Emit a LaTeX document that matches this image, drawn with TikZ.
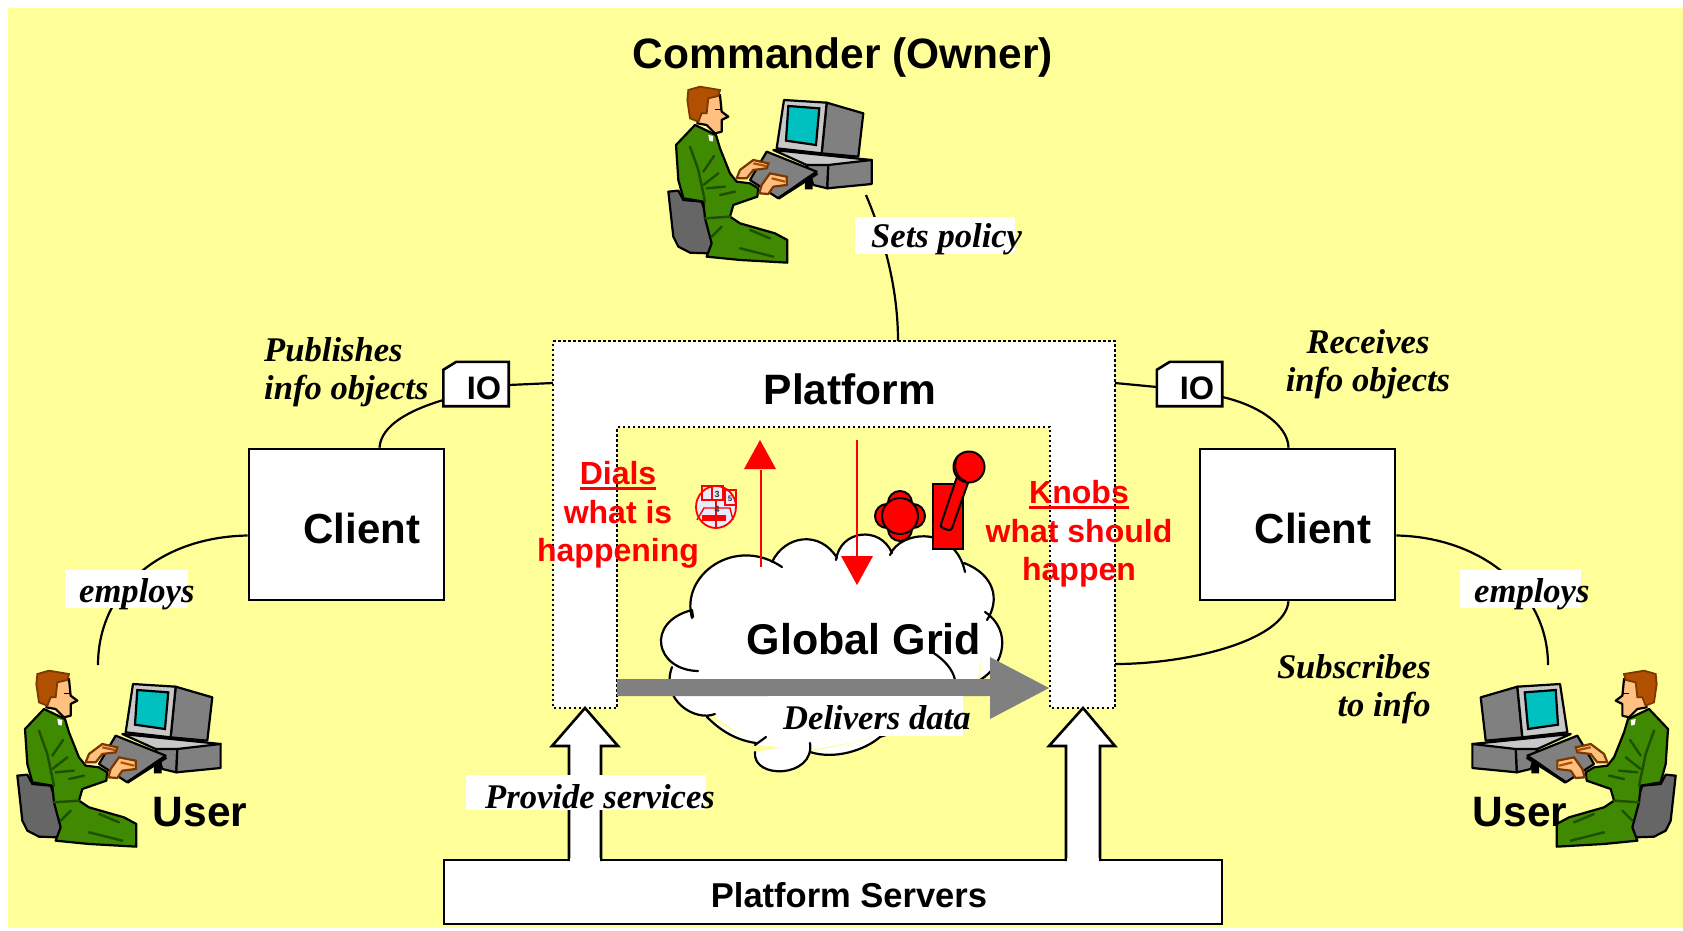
\documentclass[tikz,border=0pt]{standalone}
\usepackage{fontspec}
\setmainfont{Liberation Sans}
\newfontfamily\timesf{Liberation Serif}
\usetikzlibrary{calc}
\definecolor{bgyellow}{HTML}{FFFF99}
\definecolor{suit}{HTML}{3F8A00}
\definecolor{suitdark}{HTML}{1F4F00}
\definecolor{skin}{HTML}{FFC080}
\definecolor{hair}{HTML}{B05000}
\definecolor{teal}{HTML}{00C0C0}
\definecolor{midgray}{HTML}{808080}
\definecolor{chairgray}{HTML}{666666}
\definecolor{lightgray}{HTML}{C8C8C8}
\newcommand{\fsz}[1]{\fontsize{#1}{#1}\selectfont}
\newcommand{\redul}[1]{\setbox0\hbox{#1}\rlap{\rule[-5pt]{\wd0}{2.6pt}}\box0}
\tikzset{
  ln/.style={line width=2.2pt,draw=black},
  boxnode/.style={draw=black,line width=2.6pt,fill=white,inner sep=0pt},
  boxtxt/.style={inner sep=0pt,font=\bfseries\fsz{42}},
  ionode/.style={inner sep=0pt,minimum width=65pt,minimum height=44pt},
  iotxt/.style={inner sep=0pt,font=\bfseries\fsz{32.5}},
  ioshape/.style={draw=black,line width=2.6pt,fill=white,line join=miter},
  headtxt/.style={font=\bfseries\fsz{42.5},inner sep=0pt},
  redtxt/.style={font=\bfseries\fontsize{32}{38.5}\selectfont,text=red,align=center,inner sep=0pt},
  lbl/.style={font=\timesf\bfseries\itshape\fontsize{34.6}{38}\selectfont,inner sep=0pt},
  person line/.style={draw=black,line width=2.2pt,line join=round},
  fold/.style={draw=suitdark,line width=2.4pt,line cap=round},
  blockarrow/.style={fill=white,draw=black,line width=2.6pt,line join=miter},
  cloudline/.style={draw=black,line width=2.2pt,line cap=round,fill=white},
  redarrow/.style={draw=red,line width=2.4pt},
  redhead/.style={fill=red,draw=none},
  knobpart/.style={fill=red,draw=black,line width=2pt},
  platform/.style={fill=white,draw=black,line width=2.5pt,dash pattern=on 2.5pt off 2.5pt},
}
\newcommand{\drawperson}{%
  % chair
  \path[person line,fill=chairgray] (85,365)--(115,362)--(130,390)--(185,395)--(200,440)--(218,530)--(205,550)--(150,548)--(115,530)--(100,500)--cycle;
  % computer box
  \path[person line,fill=lightgray] (400,240)--(695,270)--(565,290)--(500,285)--cycle;
  \path[person line,fill=midgray] (500,285)--(565,285)--(562,355)--(520,345)--cycle;
  \path[person line,fill=midgray] (565,285)--(695,270)--(695,342)--(562,355)--cycle;
  % monitor
  \path[person line,fill=midgray] (560,98)--(670,130)--(655,260)--(545,250)--cycle;
  \path[person line,fill=lightgray] (432,90)--(560,98)--(545,250)--(410,235)--cycle;
  \path[draw=black,line width=2.2pt,fill=teal] (445,108)--(538,115)--(528,225)--(438,212)--cycle;
  % keyboard tray
  \path[fill=black] (495,330)--(518,318)--(518,358)--(495,358)--cycle;
  \path[person line,fill=midgray] (380,245)--(530,305)--(500,325)--(415,385)--(330,330)--cycle;
  \path[draw=black,line width=3pt] (415,385)--(532,310);
  % body
  \path[person line,fill=suit] (165,165)--(228,195)--(240,235)--(270,310)--(290,335)--(330,340)--(355,355)--(352,380)--(280,405)--(270,440)--(300,460)--(405,490)--(442,510)--(442,578)--(300,570)--(200,560)--(215,520)--(195,445)--(190,395)--(130,385)--(115,330)--(108,225)--cycle;
  \path[fold] (150,230)--(175,300)--(195,395);
  \path[fold] (222,258)--(190,305);
  \path[fold] (235,310)--(190,345);
  \path[fold] (200,355)--(255,350);
  \path[fold] (240,375)--(285,365);
  \path[fold] (195,445)--(270,440);
  \path[fold] (245,470)--(215,500);
  \path[fold] (330,480)--(390,505);
  \path[fold] (300,535)--(400,560);
  \path[fill=white] (205,195)--(220,198)--(218,215)--(208,212)--cycle;
  % head
  \path[person line,fill=skin] (205,80)--(240,75)--(245,125)--(265,140)--(245,150)--(245,185)--(225,190)--(200,165)--(172,160)--(185,120)--cycle;
  \path[draw=hair!70!black,line width=1.8pt,fill=hair] (145,60)--(180,50)--(240,60)--(235,78)--(205,85)--(200,130)--(185,130)--(175,155)--(150,145)--(142,90)--cycle;
  \path[draw=black,line width=1.5pt] (225,118)--(245,118);
  % hands
  \path[draw=hair!70!black,line width=2.2pt,fill=skin] (340,270)--(385,280)--(380,295)--(340,300)--(320,325)--(290,325)--(300,300)--cycle;
  \path[draw=hair,line width=2.2pt] (340,280)--(378,288);
  \path[draw=hair!70!black,line width=2.2pt,fill=skin] (390,310)--(440,320)--(440,345)--(400,350)--(385,372)--(358,370)--(365,345)--cycle;
  \path[draw=hair,line width=2.2pt] (395,325)--(435,335);
}
\begin{document}
\begin{tikzpicture}[x=1pt,y=-1pt]
\useasboundingbox[fill=white] (0,0) rectangle (1683,930);
\fill[bgyellow] (8,8) rectangle (1683,928);

% platform (U shape) with its fixed points
\path[platform] (553,341)--(1115,341)--(1115,708)--(1050,708)--(1050,427)--(617,427)--(617,708)--(553,708)--cycle;
\coordinate (plTop) at (898,341);
\coordinate (plLeft) at (553,383);
\coordinate (plRight) at (1115,383);
\coordinate (plRightLow) at (1115,664);
\coordinate (cmdFoot) at (866,195);
\coordinate (userLFoot) at (98,665);
\coordinate (userRFoot) at (1548,665);
\coordinate (grayStart) at (617,687);

% boxes
\node[boxnode,minimum width=195pt,minimum height=151pt] (clientL) at (346.5,524.5) {};
\node[boxnode,minimum width=195pt,minimum height=151pt] (clientR) at (1297.5,524.5) {};
\node[boxtxt] (clientLt) at (362,528) {Client};
\node[boxtxt] (clientRt) at (1313,528) {Client};
\node[ionode] (ioL) at (476,384) {};
\node[ionode] (ioR) at (1189.5,384) {};

% connectors
\draw[ln] (cmdFoot) .. controls (885,240) and (898,290) .. (plTop);
\draw[ln] ([yshift=-1pt]ioL.east) -- (plLeft);
\draw[ln] (plRight) -- ([yshift=-3pt]ioR.west);
\draw[ln] ([xshift=33pt]clientL.north) .. controls (381,425) and (410,410) .. ([yshift=-16pt]ioL.west);
\draw[ln] ([yshift=-13pt]ioR.east) .. controls (1258,405) and (1288,425) .. ([xshift=-9pt]clientR.north);
\draw[ln] ([xshift=-9pt]clientR.south) .. controls (1285,640) and (1190,664) .. (plRightLow);
\draw[ln] ([yshift=-11pt]clientL.west) .. controls (160,537) and (98,590) .. (userLFoot);
\draw[ln] ([yshift=-11pt]clientR.east) .. controls (1480,537) and (1548,590) .. (userRFoot);

% IO tags
\path[ioshape] (ioL.south west) -- (ioL.south east) -- (ioL.north east) -- ([xshift=13pt]ioL.north west) -- ([yshift=-8pt]ioL.north west) -- cycle;
\path[ioshape] (ioR.south west) -- (ioR.south east) -- (ioR.north east) -- ([xshift=13pt]ioR.north west) -- ([yshift=-8pt]ioR.north west) -- cycle;
\node[iotxt] (ioLt) at (484,388) {IO};
\node[iotxt] (ioRt) at (1197,388) {IO};

% cloud
\fill[white] (692,618)--(772,562)--(836,555)--(893,550)--(965,565)--(987,615)--(978,680)--(880,737)--(810,750)--(756,745)--(712,715)--(672,667)--cycle;
\path[cloudline]
  (692,618) .. controls (680,575) and (735,535) .. (782,567)
  (772,562) .. controls (785,535) and (820,530) .. (837,558)
  (836,560) .. controls (840,530) and (880,525) .. (892,553)
  (890,555) .. controls (900,530) and (955,525) .. (965,572)
  (964,563) .. controls (995,575) and (1000,600) .. (987,620)
  (985,612) .. controls (1012,630) and (1005,665) .. (980,680)
  (955,680) .. controls (955,710) and (915,725) .. (880,737)
  (810,752) .. controls (835,760) and (865,750) .. (880,737)
  (810,743) .. controls (815,778) and (752,780) .. (755,752)
  (766,737) -- (755,745)
  (756,743) .. controls (735,740) and (720,730) .. (707,717)
  (715,714) .. controls (695,722) and (660,700) .. (672,667)
  (698,671) .. controls (655,670) and (645,622) .. (692,610)
  (692,610) -- (693,617);
\draw[ln,line cap=round] (932,652) .. controls (945,660) and (953,670) .. (955,680);
\node[headtxt,font=\bfseries\fsz{43}] (grid) at (864,639) {Global Grid};

% gray arrow
\fill[midgray] (grayStart |- 0,679) -- (990,679) -- (990,657) -- (1049,688) -- (990,719) -- (990,696) -- (grayStart |- 0,696) -- cycle;

% block arrows and servers
\node[boxnode,minimum width=778pt,minimum height=64pt] (servers) at (833,892) {};
\node[boxtxt,font=\bfseries\fsz{34.5}] (serverst) at (849,895) {Platform Servers};
\path[blockarrow] (569,861)--(569,746)--(552,746)--(585,708)--(618,746)--(601,746)--(601,861);
\path[blockarrow] (1066,861)--(1066,746)--(1049,746)--(1083,708)--(1115,746)--(1100,746)--(1100,861);
\fill[white] (570.4,858) rectangle (599.6,863);
\fill[white] (1067.4,858) rectangle (1098.6,863);

% headings
\node[headtxt] (cmd) at (843,58) {Commander (Owner)};
\node[headtxt] (plat) at (850,389) {Platform};
\node[headtxt] (userL) at (200,812) {User};
\node[headtxt] (userR) at (1520,812) {User};

% red texts
\node[redtxt] (dials) at (618,515) {\redul{Dials}\\what is\\happening};
\node[redtxt] (knobs) at (1079,534) {\redul{Knobs}\\what should\\happen};

% red arrows
\draw[redarrow] (761,567) -- (761,470);
\fill[redhead] (744,469) -- (760,440) -- (776,469) -- cycle;
\draw[redarrow] (857,440) -- (857,558);
\fill[redhead] (841,556) -- (857,585) -- (873,556) -- cycle;

% dial
\draw[red,line width=1.8pt,fill=white!92!blue] (716,507) ellipse (20pt and 21pt);
\draw[red,line width=1.4pt] (702,486) rectangle (723,500) (712,486)--(712,500);
\draw[red,line width=1.2pt] (725,490) rectangle (736,505);
\draw[red,line width=1.4pt] (697,520) -- (704,508) -- (730,508) -- (733,520);
\fill[red] (702,515) rectangle (726,521);
\draw[red,line width=1.2pt] (716,500) -- (716,528);
\node[font=\bfseries\fsz{9},text=black!80,inner sep=0pt] (d3) at (717,494) {3};
\node[font=\bfseries\fsz{9},text=black!80,inner sep=0pt] (d4) at (717,509) {4};
\node[font=\bfseries\fsz{8},text=black!80,inner sep=0pt] (d5) at (730,499) {5};

% knobs
\foreach \dx/\dy in {0/-13,0/13,-13/0,13/0}
  \draw[knobpart] (900+\dx,516+\dy) circle (12pt);
\draw[knobpart] (900,516) circle (18pt);
\draw[knobpart] (933,484) rectangle (963,549);
\draw[knobpart,rounded corners=3pt] (940,527) -- (962,462) -- (974,466) -- (951,531) -- cycle;
\draw[knobpart] (969,467) circle (15.5pt);
\draw[black,line width=1.2pt] (957,458) .. controls (953,468) and (957,478) .. (966,481);

% persons
\begin{scope}[shift={(640,70)},x=.3333pt,y=-.3333pt]\drawperson\end{scope}
\begin{scope}[shift={(-11,654)},x=.3333pt,y=-.3333pt]\drawperson\end{scope}
\begin{scope}[shift={(1704,654)},x=-.3333pt,y=-.3333pt]\drawperson\end{scope}

% connector labels
\fill[white] (855,217) rectangle (1015,254);
\node[lbl,anchor=west] (sets) at (871,239) {Sets policy};
\fill[white] (65,570) rectangle (188,608);
\node[lbl,anchor=west] (empL) at (79,594) {employs};
\fill[white] (1460,570) rectangle (1581,608);
\node[lbl,anchor=west] (empR) at (1474,594) {employs};
\fill[white] (466,775) rectangle (706,810);
\node[lbl,anchor=west] (prov) at (485,797) {Provide services};
\fill[white] (768,696) rectangle (963,736);
\node[lbl,anchor=west] (deliv) at (783,718) {Delivers data};
\node[lbl,align=left,anchor=west] (pub) at (264,372) {Publishes\\info objects};
\node[lbl,align=center] (rec) at (1368,364) {Receives\\info objects};
\node[lbl,align=right,anchor=east] (sub) at (1431,689) {Subscribes\\to info};
\end{tikzpicture}
\end{document}
